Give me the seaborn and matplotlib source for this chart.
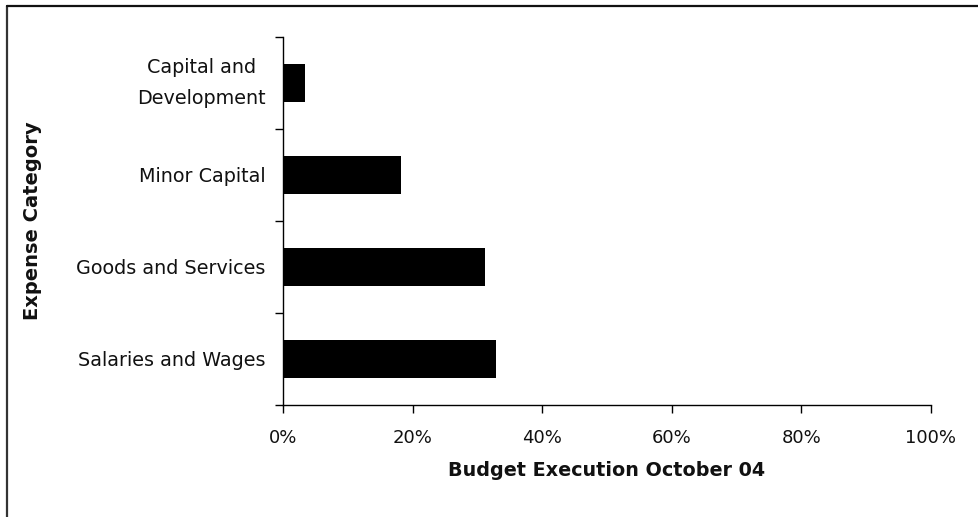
import matplotlib
matplotlib.use("Agg")
import matplotlib.pyplot as plt
from matplotlib.lines import Line2D
from matplotlib.ticker import FixedLocator, PercentFormatter
import seaborn as sns
import pandas as pd

categories = ["Capital and\nDevelopment", "Minor Capital", "Goods and Services", "Salaries and Wages"]
execution = [0.034, 0.182, 0.311, 0.329]
x_ticks = [0.0, 0.2, 0.4, 0.6, 0.8, 1.0]

sns.set_theme(style="white")
plt.rcParams["font.family"] = ["DejaVu Sans"]

df = pd.DataFrame({"category": categories, "execution": execution})

fig = plt.figure(figsize=(9.79, 5.17), dpi=100)
ax = fig.add_axes([283 / 979, 1 - 405 / 517, 648 / 979, 368 / 517])

sns.barplot(data=df, x="execution", y="category", order=categories,
            color="black", width=0.41, saturation=1, edgecolor="none", ax=ax)

ax.set_xlim(0, 1)
ax.set_ylim(3.5, -0.5)
ax.set_xticks(x_ticks)
ax.xaxis.set_major_formatter(PercentFormatter(1.0, decimals=0))

# category labels sit between boundary ticks
ax.yaxis.set_minor_locator(FixedLocator([-0.5, 0.5, 1.5, 2.5, 3.5]))
ax.tick_params(axis="y", which="major", length=0, pad=12.5, labelsize=13.8, labelcolor="#111111")
ax.tick_params(axis="y", which="minor", length=6, width=1, color="black", left=True)
ax.tick_params(axis="x", which="major", length=6, width=1, color="black", bottom=True,
               direction="out", pad=11, labelsize=13, labelcolor="#111111")
for lbl in ax.get_yticklabels():
    lbl.set_horizontalalignment("right")
    lbl.set_multialignment("center")
    if "\n" in lbl.get_text():
        lbl.set_verticalalignment("center")
        lbl.set_linespacing(1.75)

sns.despine(ax=ax)
for side in ("left", "bottom"):
    ax.spines[side].set_color("black")
    ax.spines[side].set_linewidth(1)

ax.set_xlabel("Budget Execution October 04", fontsize=13.8, fontweight="bold",
              labelpad=10, color="#111111")
ax.set_ylabel("Expense Category", fontsize=14, fontweight="bold", color="#111111")
ax.yaxis.set_label_coords(-0.372, 0.5)

# outer chart frame (top and left edges visible)
fig.add_artist(Line2D([7 / 979, 7 / 979], [0, 1 - 6 / 517], transform=fig.transFigure,
                      color="#333333", linewidth=1.6))
fig.add_artist(Line2D([7 / 979, 1], [1 - 6 / 517, 1 - 6 / 517], transform=fig.transFigure,
                      color="#111111", linewidth=1.6))

fig.savefig("out.png", dpi=100, facecolor="white")
